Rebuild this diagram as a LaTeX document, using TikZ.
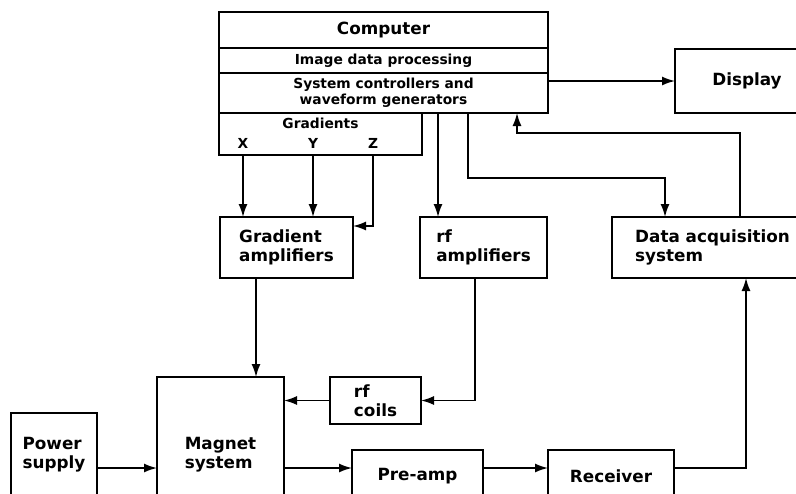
\documentclass[tikz,border=0pt]{standalone}
\usepackage{fontspec}
\setmainfont{DejaVu Sans}
\usepackage{tikz}
\usetikzlibrary{arrows.meta, positioning, calc}

\begin{document}
\begin{tikzpicture}[
    box/.style={draw, line width=0.8pt, outer sep=0pt, inner sep=1pt, align=left, font=\bfseries\fontsize{8.4}{9.4}\selectfont},
    row/.style={box, align=center, minimum width=164.5pt, font=\bfseries\fontsize{6.9}{7.8}\selectfont},
    lbl/.style={inner sep=0pt, font=\bfseries\fontsize{6.9}{7.8}\selectfont},
    arrow/.style={-{Latex[length=6.5pt, width=4.5pt]}, line width=0.8pt}
]
\useasboundingbox (0,0) rectangle (398pt,-246.5pt);
\clip (0,0) rectangle (398pt,-246.5pt);

% computer
\node[box, align=center, minimum width=164.5pt, minimum height=18pt, anchor=north west] (comp) at (109.5pt,-6pt) {Computer};
\node[row, minimum height=12.5pt, below=0pt of comp] (imgproc) {Image data processing};
\node[row, minimum height=20pt, below=0pt of imgproc] (sysctl) {System controllers and\\waveform generators};
\node[box, minimum width=101.5pt, minimum height=21pt, below right=0pt and 0pt of sysctl.south west] (grad) {};
\node[lbl, below=2.5pt of grad.north] (gradtxt) {Gradients};
\node[lbl] (gx) at (121.5pt,-71.5pt) {X};
\node[lbl] (gy) at (156.5pt,-71.5pt) {Y};
\node[lbl] (gz) at (186.5pt,-71.5pt) {Z};

\node[box, align=center, minimum width=72pt, minimum height=32pt, anchor=north west] (disp) at (337.5pt,-24.5pt) {Display};

% amplifiers and acquisition
\node[box, minimum width=66.5pt, minimum height=30.5pt, anchor=north west] (gramp) at (110pt,-108.5pt) {Gradient\\amplifiers};
\node[box, minimum width=63.5pt, minimum height=30.5pt, right=33.5pt of gramp] (rfamp) {rf\\amplifiers};
\node[box, minimum width=100.5pt, minimum height=30.5pt, right=32.5pt of rfamp] (daq) {Data acquisition\\system};

% magnet side
\node[box, minimum width=45.5pt, minimum height=23.5pt, anchor=north west] (rfcoils) at (165pt,-188.5pt) {rf\\coils};
\node[box, minimum width=43pt, minimum height=42pt, anchor=north west] (power) at (5.5pt,-206.5pt) {Power\\supply};
\node[box, minimum width=63.5pt, minimum height=78pt, right=30pt of power] (magnet) {Magnet\\system};
\node[box, align=center, minimum width=65.5pt, minimum height=26pt, anchor=north west] (preamp) at (176pt,-225pt) {Pre-amp};
\node[box, align=center, minimum width=63pt, minimum height=26pt, right=32.5pt of preamp] (receiver) {Receiver};

\coordinate (rfin) at ([xshift=9pt]rfamp.north west);
\coordinate (acqout) at ([xshift=124.5pt]sysctl.south west);
\coordinate (daqin) at ([xshift=26.5pt]daq.north west);
\coordinate (daqback) at ([xshift=64pt]daq.north west);
\coordinate (compin) at ([xshift=149pt]sysctl.south west);
\coordinate (gradout) at ([xshift=18pt]gramp.south west);
\coordinate (rfout) at ([xshift=27.5pt]rfamp.south west);
\coordinate (acqin) at ([xshift=67pt]daq.south west);

\draw[arrow] (sysctl.east |- disp.west) -- (disp.west);
\foreach \g in {gx,gy}
    \draw[arrow] (\g |- grad.south) -- (\g |- gramp.north);
\draw[arrow] (gz |- grad.south) |- ([yshift=-4.5pt]gramp.north east);
\draw[arrow] (rfin |- sysctl.south) -- (rfin);
\draw[arrow] (acqout) -- ++(0,-32.5pt) -| (daqin);
\draw[arrow] (daqback) -- ++(0,42pt) -| (compin);
\draw[arrow] (gradout) -- (gradout |- magnet.north);
\draw[arrow] (rfout) |- (rfcoils.east);
\draw[arrow] (rfcoils.west) -- (rfcoils.west -| magnet.east);
\draw[arrow] ([yshift=-6.5pt]power.east) -- ([yshift=-6.5pt]magnet.west);
\draw[arrow] ([yshift=-6.5pt]magnet.east) -- ([yshift=4pt]preamp.west);
\draw[arrow] ([yshift=4pt]preamp.east) -- ([yshift=4pt]receiver.west);
\draw[arrow] ([yshift=4pt]receiver.east) -| (acqin);
\end{tikzpicture}
\end{document}
